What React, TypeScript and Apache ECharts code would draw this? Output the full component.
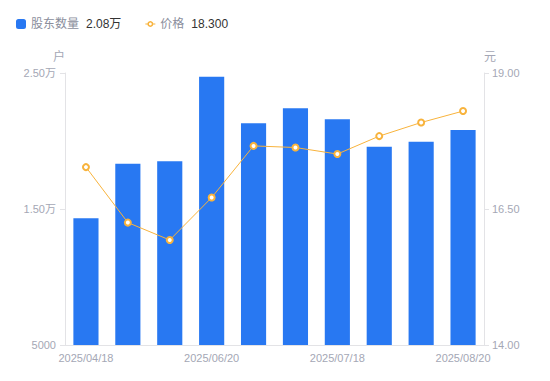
import React, { useEffect, useRef } from "react";
import * as echarts from "echarts";

const categories = [
  "2025/04/18", "2025/04/30", "2025/05/20", "2025/06/20", "2025/06/30",
  "2025/07/10", "2025/07/18", "2025/07/31", "2025/08/10", "2025/08/20",
];
const holders = [14316, 18331, 18507, 24728, 21301, 22404, 21596, 19581, 19949, 20800];
const prices = [17.27, 16.25, 15.93, 16.71, 17.66, 17.63, 17.51, 17.84, 18.09, 18.3];
const leftTicks = { min: 5000, max: 25000, interval: 10000 };
const rightTicks = { min: 14, max: 19, interval: 2.5 };

const fmtWan = (v: number) => (v >= 10000 ? (v / 10000).toFixed(2) + "万" : String(v));

const lineIcon =
  "path://M0,4.5H3V5.5H0Z M7,4.5H10V5.5H7Z M5,2A3,3 0 1,1 4.99,2Z M5,3.6A1.4,1.4 0 1,0 5.01,3.6Z";

export default function App() {
  const ref = useRef<HTMLDivElement>(null);
  useEffect(() => {
    document.body.style.margin = "0";
    if (!ref.current) return;
    const chart = echarts.init(ref.current, undefined, { renderer: "svg" });
    const lastH = holders[holders.length - 1];
    const lastP = prices[prices.length - 1];
    const labelColor = "#a4a7b5";
    const font = "Liberation Sans, Noto Sans CJK SC, sans-serif";
    chart.setOption({
      animation: false,
      textStyle: { fontFamily: font },
      legend: {
        left: 11,
        top: 13,
        itemGap: 24,
        itemWidth: 10,
        itemHeight: 10,
        textStyle: {
          fontFamily: font,
          rich: {
            n: { color: "#8a8e9c", fontSize: 12, fontFamily: font },
            v: { color: "#333333", fontSize: 12, fontFamily: font, padding: [0, 0, 0, 7] },
          },
        },
        formatter: (name: string) =>
          name === "股东数量" ? `{n|${name}}{v|${fmtWan(lastH)}}` : `{n|${name}}{v|${lastP.toFixed(3)}}`,
        data: [
          { name: "股东数量", icon: "roundRect" },
          { name: "价格", icon: lineIcon },
        ],
      },
      grid: { left: 65, right: 66, top: 73, bottom: 36 },
      xAxis: {
        type: "category",
        data: categories,
        axisTick: { show: false },
        axisLine: { lineStyle: { color: "#e3e3e6" } },
        axisLabel: { color: labelColor, fontSize: 11, interval: 2, margin: 7, fontFamily: font },
      },
      yAxis: [
        {
          type: "value",
          name: "户",
          nameGap: 10,
          nameTextStyle: { color: labelColor, fontSize: 12, align: "right", fontFamily: font },
          ...leftTicks,
          splitLine: { show: false },
          axisLine: { show: true, lineStyle: { color: "#e3e3e6" } },
          axisTick: { show: true, length: 5, lineStyle: { color: "#e3e3e6" } },
          axisLabel: { color: labelColor, fontSize: 11, formatter: fmtWan, margin: 9, fontFamily: font },
        },
        {
          type: "value",
          name: "元",
          nameGap: 10,
          nameTextStyle: { color: labelColor, fontSize: 12, align: "left", fontFamily: font },
          ...rightTicks,
          splitLine: { show: false },
          axisLine: { show: true, lineStyle: { color: "#e3e3e6" } },
          axisTick: { show: true, length: 5, lineStyle: { color: "#e3e3e6" } },
          axisLabel: {
            color: labelColor,
            fontSize: 11,
            formatter: (v: number) => v.toFixed(2),
            margin: 8,
            fontFamily: font,
          },
        },
      ],
      series: [
        {
          name: "股东数量",
          type: "bar",
          data: holders,
          barWidth: "60%",
          itemStyle: { color: "#2878f2" },
          yAxisIndex: 0,
        },
        {
          name: "价格",
          type: "line",
          data: prices,
          yAxisIndex: 1,
          symbol: "emptyCircle",
          symbolSize: 6,
          lineStyle: { color: "#f8b33c", width: 1 },
          itemStyle: { color: "#f8b33c", borderWidth: 2 },
        },
      ],
    });
    return () => chart.dispose();
  }, []);
  return <div ref={ref} style={{ width: 550, height: 381 }} />;
}
